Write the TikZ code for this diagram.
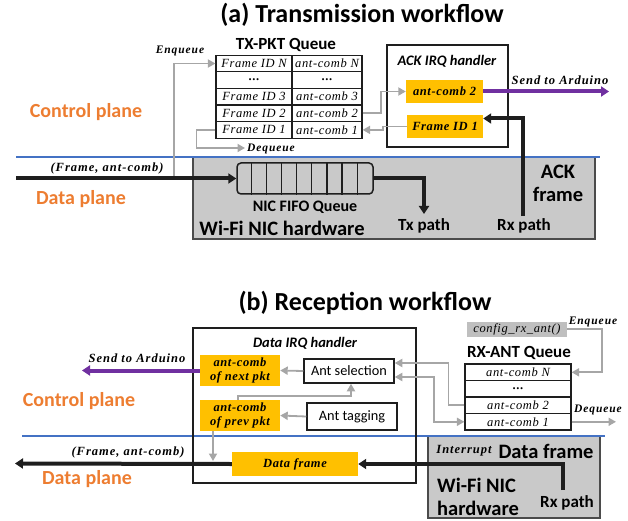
\documentclass[tikz,border=0pt]{standalone}
\usepackage{fontspec}
\setmainfont{Carlito}
\newfontfamily\tms{Liberation Serif}[LetterSpace=5]
\newfontfamily\tmsw{Liberation Serif}[LetterSpace=8]
\usetikzlibrary{arrows.meta,calc}
\definecolor{orng}{HTML}{ED7D31}
\definecolor{blu}{HTML}{4472C4}
\definecolor{ylw}{HTML}{FFC000}
\definecolor{purp}{HTML}{7030A0}
\definecolor{gline}{HTML}{A6A6A6}
\definecolor{gfill}{HTML}{C9C9C9}
\definecolor{cfgfill}{HTML}{BFBFBF}
\definecolor{dk}{HTML}{1E1E1E}
\begin{document}
\begin{tikzpicture}[x=1pt,y=-1pt,
  cellbox/.style={draw=dk, line width=1.2pt, inner sep=0pt, minimum height=16.6pt, font=\tms\itshape\fontsize{12.5}{13}\selectfont},
  ybox/.style={fill=ylw, inner sep=0pt, font=\tms\bfseries\itshape\fontsize{12.5}{13}\selectfont},
  wbox/.style={draw=dk, line width=1.5pt, inner sep=0pt, font=\fontsize{14.3}{15}\selectfont},
  irq/.style={draw=dk, line width=1.5pt, inner sep=0pt},
  nicbox/.style={draw=dk!80, fill=gfill, line width=1.3pt, inner sep=0pt},
  garrow/.style={draw=gline, line width=1.8pt, -{Triangle[length=7.5pt,width=8pt]}},
  gboth/.style={draw=gline, line width=1.8pt, {Triangle[length=7.5pt,width=8pt]}-{Triangle[length=7.5pt,width=8pt]}},
  barrow/.style={draw=dk, line width=4pt, -{Triangle[length=8pt,width=10pt]}},
  parrow/.style={draw=purp, line width=4pt, -{Triangle[length=8pt,width=10pt]}},
  blueline/.style={draw=blu, line width=2.5pt},
  plane/.style={text=orng, font=\bfseries\fontsize{20}{22}\selectfont, inner sep=0pt},
  ttl/.style={font=\bfseries\fontsize{26}{28}\selectfont, inner sep=0pt},
  qttl/.style={font=\bfseries\fontsize{17}{18}\selectfont, inner sep=0pt},
  tlab/.style={font=\tmsw\bfseries\itshape\fontsize{11.5}{12}\selectfont, inner sep=0pt},
  tlabb/.style={font=\tmsw\bfseries\itshape\fontsize{12.5}{13}\selectfont, inner sep=0pt},
  hwlab/.style={font=\bfseries\fontsize{20.5}{23}\selectfont, inner sep=0pt, align=center},
  pathlab/.style={font=\bfseries\fontsize{17}{18}\selectfont, inner sep=0pt},
  irqlab/.style={font=\bfseries\itshape\fontsize{14.5}{15}\selectfont, inner sep=0pt}
]
\useasboundingbox (0,0) rectangle (628,521);

% ================= (a) =================
\node[ttl] (ttla) at (362,15) {(a) Transmission workflow};

\node[nicbox, minimum width=402pt, minimum height=82pt] (nica) at (394,198) {};
\coordinate (bla1) at (16,157);
\coordinate (bla2) at (600,157);
\draw[blueline] (bla1) -- (bla2);

\node[plane] (cpa) at (86,112) {Control plane};
\node[plane] (dpa) at (81,199) {Data plane};

\node[qttl] (txq) at (286,45) {TX-PKT Queue};
\node[cellbox, minimum width=76pt] (tN1) at (254,63.5) {Frame ID N};
\node[cellbox, minimum width=70pt] (tN2) at (327,63.5) {ant-comb N};
\node[cellbox, minimum width=76pt] (td1) at (254,80.1) {\bfseries\upshape ...};
\node[cellbox, minimum width=70pt] (td2) at (327,80.1) {\bfseries\upshape ...};
\node[cellbox, minimum width=76pt] (t31) at (254,96.7) {Frame ID 3};
\node[cellbox, minimum width=70pt] (t32) at (327,96.7) {ant-comb 3};
\node[cellbox, minimum width=76pt] (t21) at (254,113.3) {Frame ID 2};
\node[cellbox, minimum width=70pt] (t22) at (327,113.3) {ant-comb 2};
\node[cellbox, minimum width=76pt] (t11) at (254,129.9) {Frame ID 1};
\node[cellbox, minimum width=70pt] (t12) at (327,129.9) {ant-comb 1};

\node[tlab] (enqa) at (180,51) {Enqueue};
\node[tlab] (deqa) at (271,149) {Dequeue};
\coordinate (enqS) at (174,176);
\draw[garrow] (enqS) |- (tN1.west);
\coordinate (deqE) at (245,148);
\draw[garrow] (t11.west) -- ++(-19,0) |- (deqE);

\node[irq, minimum width=121pt, minimum height=102pt] (ackirq) at (447.5,96) {};
\node[irqlab] (ackl) at (447,61) {ACK IRQ handler};
\node[ybox, minimum width=77pt, minimum height=23pt] (ac2) at (444.5,91.5) {ant-comb 2};
\node[ybox, minimum width=76pt, minimum height=23pt] (fid1) at (445,126.5) {Frame ID 1};

\draw[garrow] (t22.east) -- ++(18,0) |- (ac2.west);
\draw[garrow] (fid1.west) -- ++(-24,0) |- (t12.east);

\coordinate (senda) at (609,91.5);
\draw[parrow] (ac2.east) -- (senda);
\node[tlabb] (sendal) at (560,80) {Send to Arduino};

\node[draw=dk, line width=1.5pt, rounded corners=4pt, minimum width=136pt, minimum height=31pt, inner sep=0pt] (fifo) at (305,178.5) {};
\foreach \i in {1,...,8} {
  \draw[dk, line width=1.2pt] ($(fifo.north west)+(\i*15.11,0)$) -- ($(fifo.south west)+(\i*15.11,0)$);
}
\node[pathlab, font=\bfseries\fontsize{16}{17}\selectfont] (fifol) at (305,207) {NIC FIFO Queue};
\node[hwlab] (hwa) at (282,228) {Wi-Fi NIC hardware};

\coordinate (dinS) at (16,178.5);
\draw[barrow] (dinS) -- (fifo.west);
\node[tlabb] (fa) at (107,168) {(Frame, ant-comb)};

\coordinate (txE) at (424,214);
\draw[barrow] (fifo.east) -| (txE);
\node[pathlab] (txl) at (424,225.5) {Tx path};

\coordinate (rxa) at (523,216);
\draw[barrow] (rxa) |- ([yshift=8pt]fid1.east);
\node[pathlab] (rxl) at (524,225.5) {Rx path};
\node[hwlab] (ackf) at (558,183.5) {ACK\\frame};

% ================= (b) =================
\node[ttl] (ttlb) at (365,303) {(b) Reception workflow};

\node[nicbox, minimum width=172pt, minimum height=82pt] (nicb) at (514,477) {};
\coordinate (blb1) at (22,436);
\coordinate (blb2) at (605,436);
\draw[blueline] (blb1) -- (blb2);

\node[plane] (cpb) at (79,401) {Control plane};
\node[plane] (dpb) at (87,479) {Data plane};

\node[irq, minimum width=223pt, minimum height=155pt] (dirq) at (304.5,405.5) {};
\node[irqlab] (dirql) at (305,343) {Data IRQ handler};

\node[ybox, minimum width=80pt, minimum height=31pt, align=center, font=\tms\bfseries\itshape\fontsize{12.5}{14}\selectfont] (nxt) at (240,370.5) {ant-comb\\of next pkt};
\node[ybox, minimum width=80pt, minimum height=31pt, align=center, font=\tms\bfseries\itshape\fontsize{12.5}{14}\selectfont] (prv) at (240,415.5) {ant-comb\\of prev pkt};
\node[wbox, minimum width=90pt, minimum height=24pt] (sel) at (349,371) {Ant selection};
\node[wbox, minimum width=90pt, minimum height=27pt] (tag) at (352,416.5) {Ant tagging};
\node[ybox, minimum width=126pt, minimum height=24pt] (df) at (295,464) {Data frame};

\draw[garrow] (sel.west) -- (nxt.east);
\draw[garrow] (tag.west) -- (prv.east);
\draw[garrow] ([xshift=-2pt]prv.north) -- ++(0,-4) -| ([xshift=2pt]sel.south);
\coordinate (prvD) at (213,461);
\draw[garrow] ([xshift=-27pt]prv.south) -- (prvD);

\coordinate (sendb) at (82,370.5);
\draw[parrow] (nxt.west) -- (sendb);
\node[tlabb] (sendbl) at (137,358) {Send to Arduino};

\coordinate (doutE) at (15,463.5);
\draw[barrow] (df.west) -- (doutE);
\node[tlabb] (fb) at (128,452) {(Frame, ant-comb)};

\coordinate (rxb) at (563,490);
\draw[barrow] (rxb) |- (df.east);

\node[fill=cfgfill, minimum width=100pt, minimum height=15pt, inner sep=0pt, font=\tms\itshape\fontsize{12.5}{13}\selectfont] (cfg) at (517,329) {config\_rx\_ant()};
\node[tlab] (enqb) at (593,322) {Enqueue};
\node[qttl] (rxq) at (519,353) {RX-ANT Queue};
\node[cellbox, minimum width=106pt, minimum height=16.5pt] (rN) at (518,372.3) {ant-comb N};
\node[cellbox, minimum width=106pt, minimum height=16.5pt] (rd) at (518,388.8) {\bfseries\upshape ...};
\node[cellbox, minimum width=106pt, minimum height=16.5pt] (r2) at (518,405.3) {ant-comb 2};
\node[cellbox, minimum width=106pt, minimum height=16.5pt] (r1) at (518,421.8) {ant-comb 1};

\draw[garrow] (cfg.east) -- ++(35,0) |- (rN.east);
\coordinate (deqB) at (616,421.8);
\draw[garrow] (r1.east) -- (deqB);
\node[tlab] (deqbl) at (598,410) {Dequeue};

\draw[garrow] (r2.west) -- ++(-16,0) |- ([yshift=8pt]sel.east);
\draw[gboth] ([yshift=-6pt]sel.east) -- ++(39,0) |- (r1.west);

\node[tlabb] (intr) at (464,451) {Interrupt};
\node[hwlab] (dfl) at (546,451) {Data frame};
\node[hwlab, anchor=west] (hwb1) at (437,485) {Wi-Fi NIC};
\node[hwlab, anchor=west] (hwb2) at (437,508) {hardware};
\node[pathlab] (rxbl) at (567,503) {Rx path};
\end{tikzpicture}
\end{document}
